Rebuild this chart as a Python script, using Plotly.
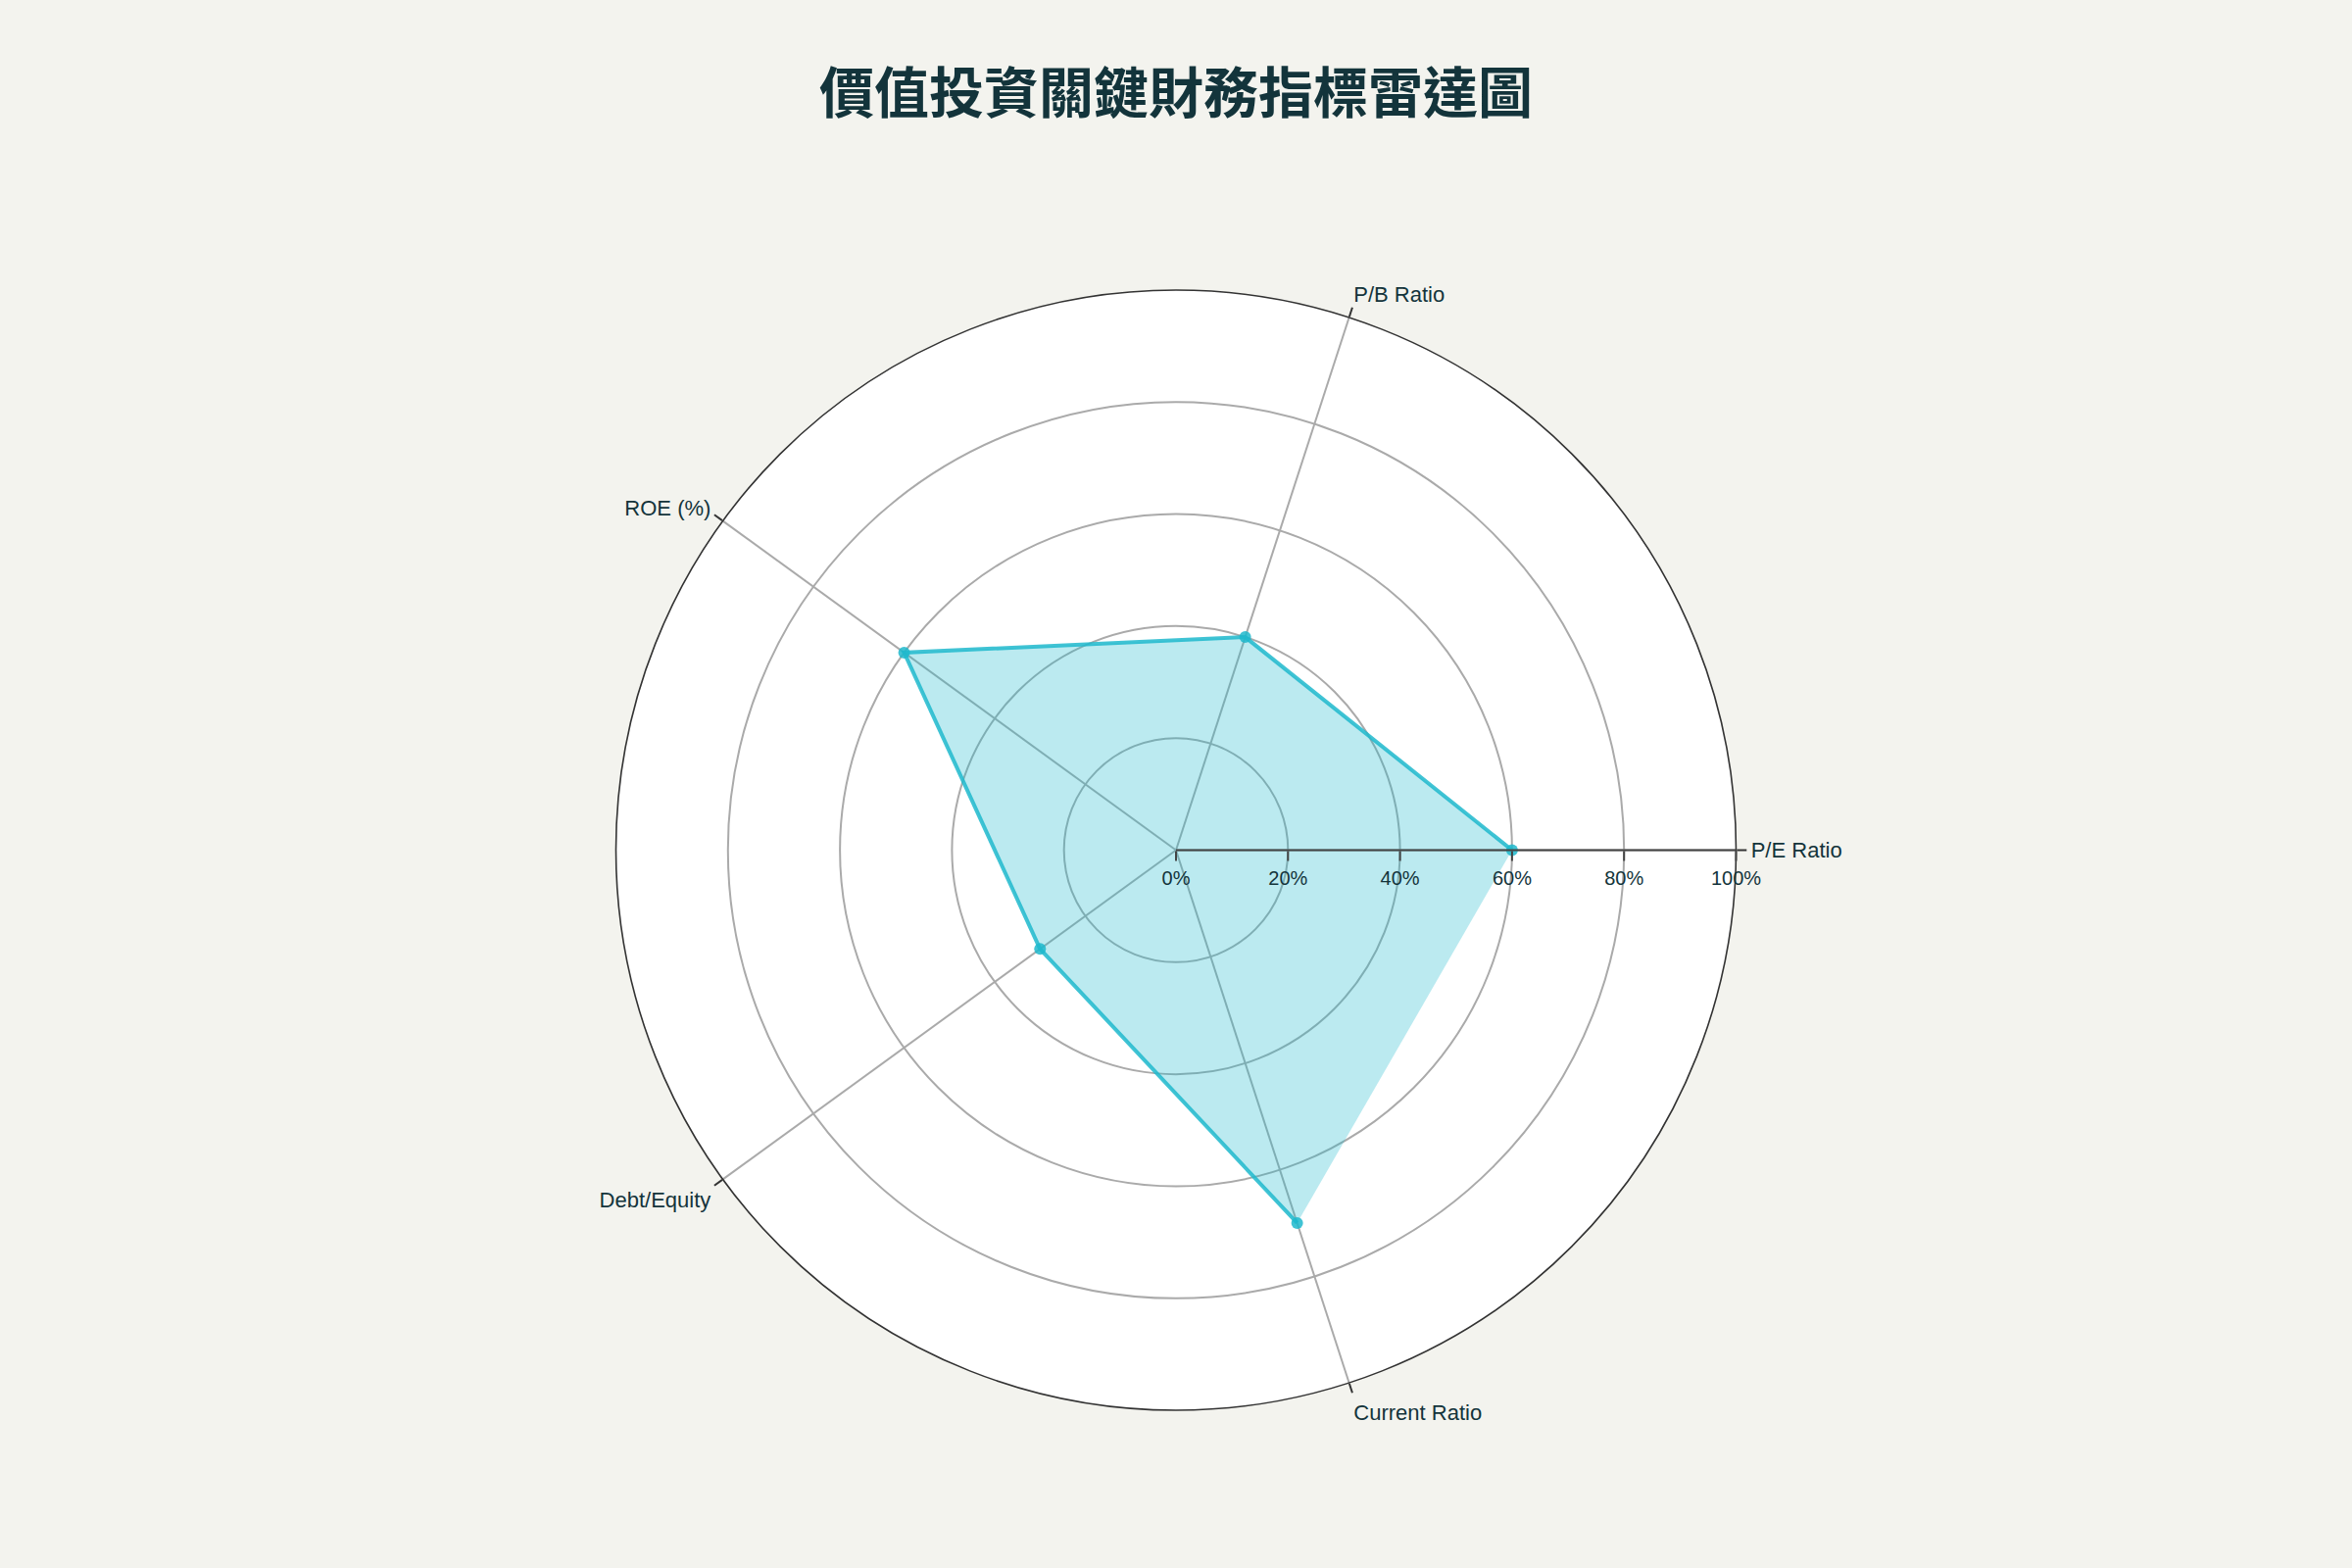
import plotly.graph_objects as go

categories = ["P/E Ratio", "P/B Ratio", "ROE (%)", "Debt/Equity", "Current Ratio"]
values = [60, 40, 60, 30, 70]
radial_ticks = [0, 20, 40, 60, 80, 100]
radial_tick_labels = ["0%", "20%", "40%", "60%", "80%", "100%"]
title_text = "價值投資關鍵財務指標雷達圖"

TEXT = "#13343B"
LINE = "rgba(31,184,205,0.85)"
GRID = "#AAAAAA"

fig = go.Figure()
fig.add_trace(go.Scatterpolar(
    r=values,
    theta=categories,
    mode="lines+markers",
    fill="toself",
    fillcolor="rgba(31,184,205,0.3)",
    line=dict(color=LINE, width=4),
    marker=dict(color=LINE, size=12),
    showlegend=False,
))

fig.update_layout(
    width=2400,
    height=1600,
    paper_bgcolor="#F3F3EE",
    margin=dict(l=80, r=80, t=296, b=161),
    font=dict(family="Liberation Sans, Arial, sans-serif", color=TEXT, size=20),
    title=dict(
        text=title_text,
        x=0.5,
        xanchor="center",
        yref="container",
        y=1 - 95 / 1600,
        yanchor="middle",
        font=dict(family="Noto Sans CJK TC", size=56, color=TEXT, weight="bold"),
    ),
    polar=dict(
        bgcolor="white",
        radialaxis=dict(
            range=[0, 100],
            tickvals=radial_ticks,
            ticktext=radial_tick_labels,
            angle=0,
            showline=True,
            linecolor="#444444",
            linewidth=2,
            ticks="outside",
            ticklen=10,
            tickwidth=2,
            tickcolor="#444444",
            gridcolor=GRID,
            gridwidth=1.5,
            tickfont=dict(size=20, color=TEXT),
        ),
        angularaxis=dict(
            rotation=0,
            direction="counterclockwise",
            showline=True,
            linecolor="#333333",
            linewidth=1.6,
            ticks="outside",
            ticklen=10,
            tickwidth=1.6,
            tickcolor="#333333",
            gridcolor=GRID,
            gridwidth=1.5,
            tickfont=dict(size=22, color=TEXT),
        ),
    ),
)

fig.write_html("out.html")
